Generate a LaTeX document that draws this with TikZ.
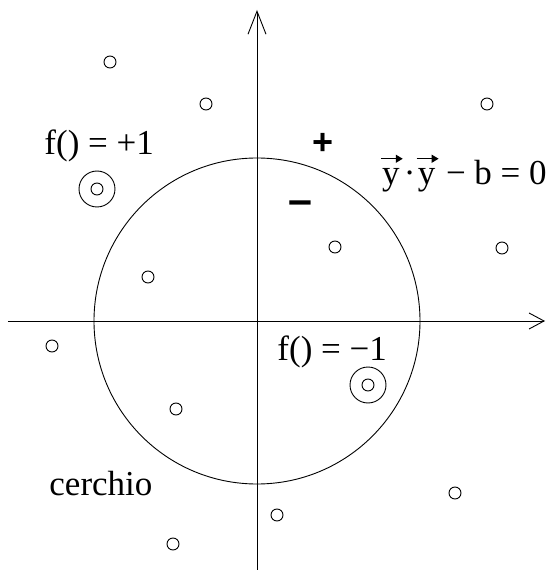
\documentclass[tikz,border=0pt]{standalone}
\usepackage{fontspec}
\setmainfont{Liberation Serif}
\newfontfamily\heavysans{Liberation Sans}
\usetikzlibrary{arrows.meta}
\newcommand{\arrowed}[1]{\tikz[baseline=(v.base)]{\node[inner sep=0pt,anchor=base] (v) at (0,0) {#1};
  \draw[line width=1.3pt,-{Triangle[length=7pt,width=8pt]}] ([xshift=-1pt,yshift=10pt]v.north west) -- ([xshift=3pt,yshift=10pt]v.north east);}}
\tikzset{
  lbl/.style={inner sep=0pt,anchor=base west,font=\fontsize{35}{38}\selectfont},
  sgn/.style={inner sep=0pt,font=\heavysans\bfseries\fontsize{36}{38}\selectfont}
}
\begin{document}
\begin{tikzpicture}[x=1pt,y=1pt,line width=0.9pt]
\useasboundingbox (-257,-249) rectangle (291,321);
% axes
\draw[-{Straight Barb[length=15pt,width=16pt,line width=0.9pt]}] (-249,0) -- (288,0);
\draw[-{Straight Barb[length=23pt,width=18pt,line width=0.9pt]}] (0,-249) -- (0,311);
% the circle
\draw (0,0) circle (163);
% points
\foreach \px/\py in {-147/259,-51/217,230/217,-109/44,78/74,245/73,
  -205/-25,-81/-88,198/-172,20/-194,-84/-223}
  \draw (\px,\py) circle (6);
% chosen points
\draw (-160,132) circle (6);
\draw (-160,132) circle (18);
\draw (111,-64) circle (6);
\draw (111,-64) circle (18);
% labels
\node[lbl] (fplus) at (-213,166) {f() = +1};
\node[lbl] (fminus) at (20,-39) {f() = −1};
\node[lbl] (eqn) at (123,136) {\arrowed{y}\kern0.5pt·\kern0.5pt\arrowed{y}\kern-2pt{} − b = 0};
\node[lbl] (cer) at (-208,-174) {cerchio};
\node[sgn] (plus) at (66,177) {+};
\node[sgn,font=\heavysans\bfseries\fontsize{43}{44}\selectfont] (minus) at (43,113) {–};
\end{tikzpicture}
\end{document}
